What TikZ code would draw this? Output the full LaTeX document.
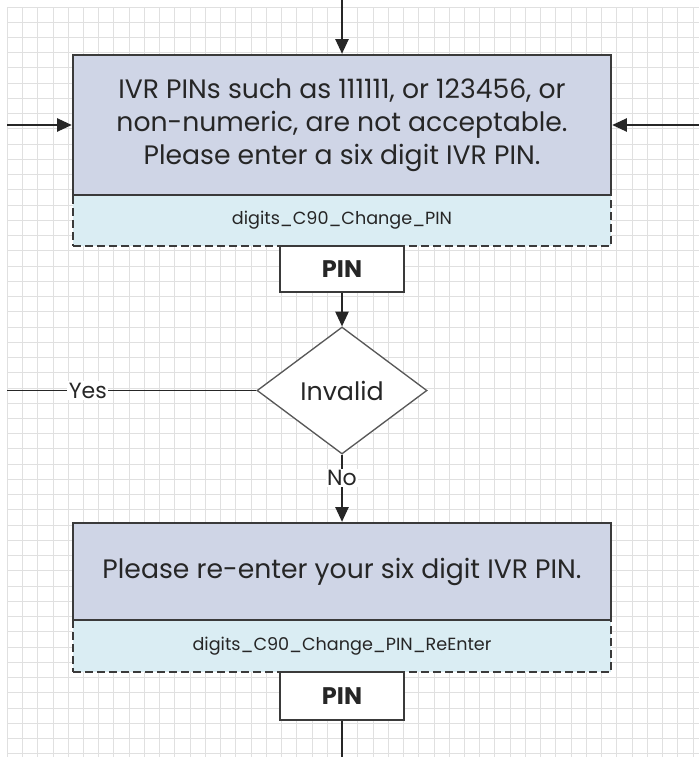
\documentclass[tikz,border=0pt]{standalone}
\usepackage{fontspec}
\setmainfont{Poppins}
\usetikzlibrary{arrows.meta,shapes.geometric}
\definecolor{mainfill}{HTML}{CFD5E6}
\definecolor{subfill}{HTML}{DAEDF3}
\definecolor{edgec}{HTML}{3A3A3A}
\definecolor{gridc}{HTML}{E0E0E0}
\definecolor{txt}{HTML}{262626}
\begin{document}
\begin{tikzpicture}[x=0.75pt,y=-0.75pt,
  mainbox/.style={draw=edgec,line width=1.9pt,fill=mainfill,minimum width=403.5pt,inner sep=0pt,text=txt,align=center,font=\fontsize{20}{24.75}\selectfont},
  subbox/.style={draw=edgec,line width=1.8pt,dash pattern=on 6pt off 3pt,fill=subfill,minimum width=403.5pt,inner sep=0pt,text=txt,font=\fontsize{13.2}{15}\selectfont},
  pinbox/.style={draw=edgec,line width=1.1pt,fill=white,minimum width=93pt,inner sep=0pt,text=txt,font=\fontsize{18}{20}\selectfont\bfseries},
  decision/.style={diamond,draw=edgec!85,line width=1pt,fill=white,minimum width=127.5pt,minimum height=95.25pt,inner sep=0pt,text=txt,font=\fontsize{19}{22}\selectfont},
  conn/.style={draw=black!85,line width=1pt},
  arr/.style={conn,-{Triangle[length=11pt,width=10pt]}},
  lbl/.style={fill=white,inner sep=1pt,text=txt,font=\fontsize{16.5}{18}\selectfont}]
\useasboundingbox (0,0) rectangle (699,757);
\fill[white] (0,0) rectangle (699,757);
\foreach \i in {0,...,45} \draw[gridc,line width=0.75pt] (7.3+15.24*\i,7) -- (7.3+15.24*\i,757);
\foreach \j in {0,...,49} \draw[gridc,line width=0.75pt] (7,7+15.24*\j) -- (699,7+15.24*\j);
% upper block
\node[subbox,minimum height=38.25pt] (sub1) at (342,220.5) {digits\_C90\_Change\_PIN};
\node[mainbox,minimum height=105pt] (box1) at (342,125) {IVR PINs such as 111111, or 123456, or\\non-numeric, are not acceptable.\\Please enter a six digit IVR PIN.};
\node[pinbox,minimum height=34.5pt] (pin1) at (342,269) {PIN};
\node[decision] (dia) at (342,390.5) {Invalid};
% lower block
\node[subbox,minimum height=39pt] (sub2) at (342,646) {digits\_C90\_Change\_PIN\_ReEnter};
\node[mainbox,minimum height=72.75pt] (box2) at (342,571.5) {Please re-enter your six digit IVR PIN.};
\node[pinbox,minimum height=36pt] (pin2) at (342,696) {PIN};
% free ends
\coordinate (topin) at (342,0);
\coordinate (leftin) at (7,125);
\coordinate (rightin) at (699,125);
\coordinate (yesend) at (7,390.5);
\coordinate (botend) at (342,757);
% connectors
\draw[arr] (topin) -- (box1.north);
\draw[arr] (leftin) -- (box1.west);
\draw[arr] (rightin) -- (box1.east);
\draw[arr] (pin1.south) -- (dia.north);
\draw[conn] (dia.west) -- node[lbl,pos=0.676]{Yes} (yesend);
\draw[arr] (dia.south) -- node[lbl,pos=0.35]{No} (box2.north);
\draw[conn] (pin2.south) -- (botend);
\end{tikzpicture}
\end{document}
